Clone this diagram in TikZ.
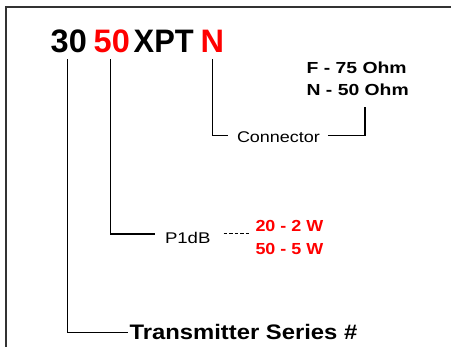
\documentclass[tikz,border=0pt]{standalone}
\usepackage{fontspec}
\setmainfont{Liberation Sans}
\usepackage{graphicx}
\usetikzlibrary{calc}
\newcommand{\hs}[2]{\scalebox{#1}[1]{#2}}
\begin{document}
\begin{tikzpicture}[x=1pt,y=-1pt,
  lbl/.style={inner sep=0pt, outer sep=0pt, anchor=base west},
  titlefont/.style={font=\fontsize{32.5}{36}\selectfont\bfseries},
  boldlbl/.style={font=\fontsize{16}{18}\selectfont\bfseries},
  reglbl/.style={font=\fontsize{15.5}{18}\selectfont},
  wire/.style={line width=1.1pt, black},
  dashline/.style={line width=1pt, black, dash pattern=on 3.5pt off 2pt},
  frame/.style={line width=1.8pt, black!80}]
\useasboundingbox (0,0) rectangle (451,347);
\draw[frame] (6,352) -- (6,7) -- (456,7);

% title code
\node[lbl, titlefont] (n30) at (50.7,53) {30};
\node[lbl, titlefont, text=red] (n50) at (93.7,53) {50};
\node[lbl, titlefont] (nxpt) at (133.7,53) {\hs{0.95}{XPT}};
\node[lbl, titlefont, text=red] (nN) at (200.6,53) {N};

% labels
\node[lbl, boldlbl] (fohm) at (306.6,74) {\hs{1.21}{F - 75 Ohm}};
\node[lbl, boldlbl] (nohm) at (306.6,96) {\hs{1.21}{N - 50 Ohm}};
\node[lbl, reglbl] (conn) at (237,143) {\hs{1.16}{Connector}};
\node[lbl, reglbl] (p1db) at (165,243.3) {\hs{1.2}{P1dB}};
\node[lbl, boldlbl, text=red] (w20) at (255.5,232) {\hs{1.12}{20 - 2 W}};
\node[lbl, boldlbl, text=red] (w50) at (255.5,254.5) {\hs{1.12}{50 - 5 W}};
\node[lbl, font=\fontsize{21}{24}\selectfont\bfseries] (ts) at (129.5,340) {\hs{1.135}{Transmitter Series \#}};

% connectors
\draw[wire] ([xshift=-1.5pt]n30.south) ++(0,6) |- ([xshift=-1.5pt]ts.west);
\draw[wire] ([xshift=-1.5pt]n50.south) ++(0,6) |- ($(p1db.west)+(-10,-3.8)$);
\draw[dashline] ($(p1db.east)+(13,-3.8)$) -- ($(p1db.east -| w20.west)+(-5.5,-3.8)$);
\draw[wire] (nN.south) ++(0,6) |- ($(conn.west)+(-9,-2)$);
\draw[wire] ($(conn.east)+(8,-2)$) -| ($(nohm.south)+(7.3,11)$);
\end{tikzpicture}
\end{document}
